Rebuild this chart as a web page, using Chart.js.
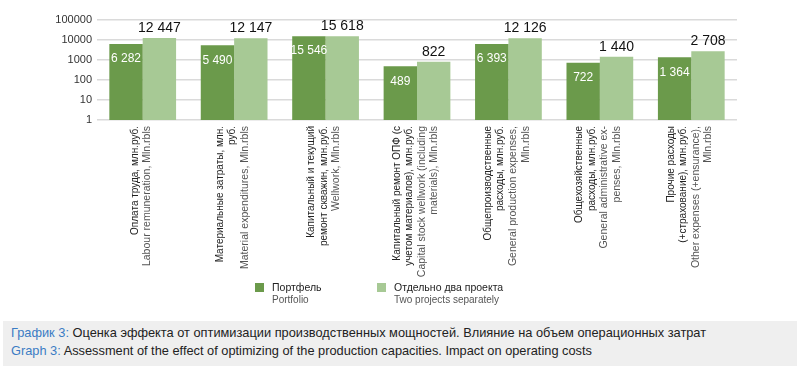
<!DOCTYPE html>
<html>
<head>
<meta charset="utf-8">
<script src="https://cdn.jsdelivr.net/npm/chart.js@4/dist/chart.umd.min.js"></script>
<style>
  body { margin: 0; background: #fff; font-family: "Liberation Sans", Arial, sans-serif; }
  #wrap { position: relative; width: 800px; height: 320px; }
  #caption {
    position: absolute; left: 3px; top: 321px; width: 794px; height: 45px;
    background: #efefef; font-size: 12.8px; color: #222; box-sizing: border-box;
    padding: 3px 0 0 8px; line-height: 18px;
  }
  #caption span { color: #3b7cc4; }
</style>
</head>
<body>
<div id="wrap"><canvas id="chart"></canvas></div>
<div id="caption">
  <div><span>График 3:</span> Оценка эффекта от оптимизации производственных мощностей. Влияние на объем операционных затрат</div>
  <div><span>Graph 3:</span> Assessment of the effect of optimizing of the production capacities. Impact on operating costs</div>
</div>
<script>
const labelsRu = [
  ["Оплата труда, млн.руб."],
  ["Материальные затраты, млн.", "руб."],
  ["Капитальный и текущий", "ремонт скважин, млн.руб."],
  ["Капитальный ремонт ОПФ (с", "учетом материалов), млн.руб."],
  ["Общепроизводственные", "расходы, млн.руб."],
  ["Общехозяйственные", "расходы, млн.руб."],
  ["Прочие расходы", "(+страхование), млн.руб."]
]
const labelsEn = [
  ["Labour remuneration, Mln.rbls"],
  ["Material expenditures, Mln.rbls"],
  ["Wellwork, Mln.rbls"],
  ["Capital stock wellwork (including", "materials), Mln.rbls"],
  ["General production expenses,", "Mln.rbls"],
  ["General administrative ex-", "penses, Mln.rbls"],
  ["Other expenses (+ensurance),", "Mln.rbls"]
]
const portfolio = [6282, 5490, 15546, 489, 6393, 722, 1364]
const separately = [12447, 12147, 15618, 822, 12126, 1440, 2708]
const yTicks = [1, 10, 100, 1000, 10000, 100000]
const seriesRu = ["Портфель", "Отдельно два проекта"]
const seriesEn = ["Portfolio", "Two projects separately"]

const dark = "#6b9a4b"
const light = "#a7c995"
const font = "'Liberation Sans', Arial, sans-serif"

function fmt(n) {
  return n.toString().replace(/\B(?=(\d{3})+(?!\d))/g, " ")
}

const barLabels = {
  id: "barLabels",
  afterDatasetsDraw(chart) {
    const ctx = chart.ctx
    ctx.save()
    ctx.textAlign = "center"
    ctx.textBaseline = "middle"
    chart.data.datasets.forEach((ds, di) => {
      chart.getDatasetMeta(di).data.forEach((bar, i) => {
        if (di === 0) {
          ctx.fillStyle = "#fff"
          ctx.font = "12px " + font
          ctx.fillText(fmt(ds.data[i]), bar.x, bar.y + 15)
        } else {
          ctx.fillStyle = "#111"
          ctx.font = "14px " + font
          ctx.fillText(fmt(ds.data[i]), bar.x, bar.y - 10)
        }
      })
    })
    ctx.restore()
  }
}

const catLabels = {
  id: "catLabels",
  afterDraw(chart) {
    const ctx = chart.ctx
    const xs = chart.scales.x
    const top = chart.chartArea.bottom + 6
    ctx.save()
    ctx.textAlign = "right"
    ctx.textBaseline = "middle"
    labelsRu.forEach((ru, i) => {
      const lines = ru.map(t => [t, 0]).concat(labelsEn[i].map(t => [t, 1]))
      const cx = xs.getPixelForValue(i) - 1.5
      const step = 12.5
      lines.forEach(([t, en], j) => {
        const lx = cx + (j - (lines.length - 1) / 2) * step
        ctx.save()
        ctx.translate(lx, top)
        ctx.rotate(-Math.PI / 2)
        ctx.fillStyle = en ? "#555" : "#222"
        ctx.font = (en ? "10.5px " : "10px ") + font
        ctx.fillText(t, 0, 0)
        ctx.restore()
      })
    })
    ctx.restore()
  }
}

const legend2 = {
  id: "legend2",
  afterDraw(chart) {
    const ctx = chart.ctx
    const items = [[255, dark], [377, light]]
    ctx.save()
    ctx.textAlign = "left"
    ctx.textBaseline = "middle"
    items.forEach(([x, c], i) => {
      ctx.fillStyle = c
      ctx.fillRect(x, 283, 9, 9)
      ctx.fillStyle = "#222"
      ctx.font = "10.5px " + font
      ctx.fillText(seriesRu[i], x + 17, 288)
      ctx.fillStyle = "#555"
      ctx.font = "10px " + font
      ctx.fillText(seriesEn[i], x + 17, 300)
    })
    ctx.restore()
  }
}

const chart = new Chart("chart", {
  type: "bar",
  data: {
    labels: labelsRu.map(l => l.join(" ")),
    datasets: [
      { label: seriesRu[0], data: portfolio, backgroundColor: dark },
      { label: seriesRu[1], data: separately, backgroundColor: light }
    ]
  },
  options: {
    responsive: true,
    maintainAspectRatio: false,
    animation: false,
    layout: { padding: { top: 20, right: 63, left: 0, bottom: 0 } },
    datasets: { bar: { barPercentage: 1, categoryPercentage: 0.73 } },
    plugins: {
      legend: { display: false },
      tooltip: { enabled: false }
    },
    scales: {
      x: {
        grid: { display: false },
        border: { display: false },
        ticks: { display: false },
        afterFit(scale) { scale.height = 200 }
      },
      y: {
        type: "logarithmic",
        min: 1,
        max: 100000,
        afterBuildTicks(scale) { scale.ticks = yTicks.map(v => ({ value: v })) },
        afterFit(scale) { scale.width = 97 },
        border: { display: false },
        grid: { color: "#dadada", lineWidth: 1.5, drawTicks: false },
        ticks: {
          padding: 5,
          color: "#333",
          font: { family: font, size: 11 },
          callback: v => String(v)
        }
      }
    }
  },
  plugins: [barLabels, catLabels, legend2]
})
</script>
</body>
</html>
